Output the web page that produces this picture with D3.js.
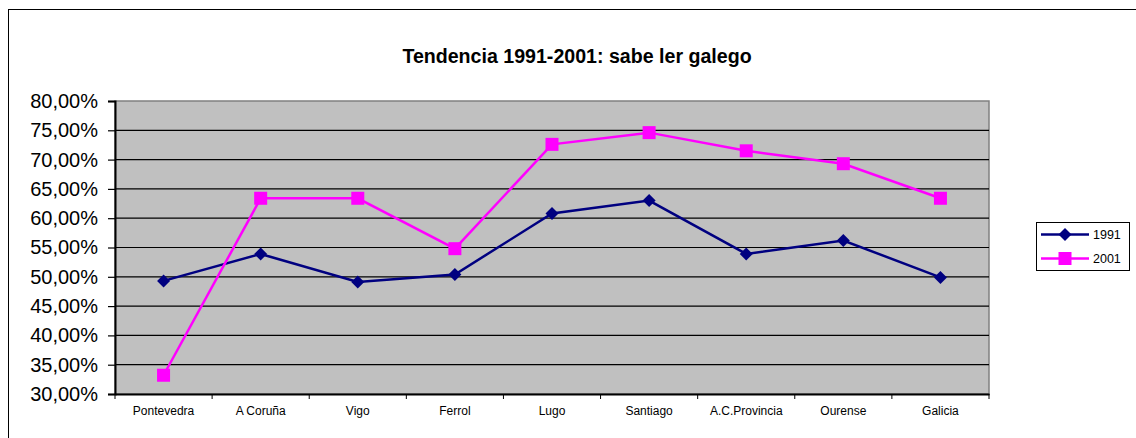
<!DOCTYPE html>
<html>
<head>
<meta charset="utf-8">
<script src="https://cdn.jsdelivr.net/npm/d3@7"></script>
<style>
  body { margin: 0; background: #fff; }
  svg { display: block; font-family: "Liberation Sans", Arial, sans-serif; }
</style>
</head>
<body>
<svg id="chart" width="1136" height="438"></svg>
<script>
const categories = ["Pontevedra", "A Coruña", "Vigo", "Ferrol", "Lugo", "Santiago", "A.C.Provincia", "Ourense", "Galicia"];
const values1991 = [0.493, 0.539, 0.491, 0.504, 0.608, 0.630, 0.539, 0.562, 0.499];
const values2001 = [0.332, 0.634, 0.634, 0.548, 0.726, 0.746, 0.715, 0.693, 0.634];
const yTicks = [0.30, 0.35, 0.40, 0.45, 0.50, 0.55, 0.60, 0.65, 0.70, 0.75, 0.80];

const series = [
  { name: "1991", values: values1991, color: "#000080", marker: "diamond" },
  { name: "2001", values: values2001, color: "#ff00ff", marker: "square" }
];

const svg = d3.select("#chart");
const plot = { left: 115, right: 989, top: 101, bottom: 394 };

// chart frame
svg.append("rect")
  .attr("x", 8.5).attr("y", 9.5)
  .attr("width", 1140).attr("height", 440)
  .attr("fill", "none").attr("stroke", "#000").attr("stroke-width", 1);

svg.append("text")
  .attr("x", 577).attr("y", 63)
  .attr("text-anchor", "middle")
  .attr("font-size", "19.6px").attr("font-weight", "bold")
  .text("Tendencia 1991-2001: sabe ler galego");

const x = d3.scaleBand().domain(categories).range([plot.left, plot.right]);
const y = d3.scaleLinear().domain([0.30, 0.80]).range([plot.bottom, plot.top]);

svg.append("rect")
  .attr("x", plot.left).attr("y", plot.top)
  .attr("width", plot.right - plot.left).attr("height", plot.bottom - plot.top)
  .attr("fill", "#c0c0c0").attr("stroke", "#808080").attr("stroke-width", 1.5);

// gridlines
svg.append("g").selectAll("line")
  .data(yTicks.slice(1, -1))
  .enter().append("line")
  .attr("x1", plot.left).attr("x2", plot.right)
  .attr("y1", d => y(d)).attr("y2", d => y(d))
  .attr("stroke", "#000").attr("stroke-width", 1.2);

const fmt = d => d3.format(".2f")(d * 100).replace(".", ",") + "%";

const yAxis = svg.append("g")
  .attr("transform", `translate(${plot.left},0)`)
  .call(d3.axisLeft(y).tickValues(yTicks).tickFormat(fmt).tickSize(7).tickPadding(10));
yAxis.select(".domain").attr("stroke", "#000").attr("stroke-width", 2);
yAxis.selectAll(".tick line").attr("stroke", "#000").attr("stroke-width", 1.2);
yAxis.selectAll("text")
  .attr("font-size", "20px").attr("fill", "#000")
  .attr("font-family", "Liberation Sans, Arial, sans-serif");

const xAxis = svg.append("g")
  .attr("transform", `translate(0,${plot.bottom})`)
  .call(d3.axisBottom(x).tickSize(0).tickPadding(12));
xAxis.select(".domain").attr("stroke", "#000").attr("stroke-width", 2);
xAxis.selectAll("text")
  .attr("font-size", "12px").attr("fill", "#000")
  .attr("font-family", "Liberation Sans, Arial, sans-serif");
// category separator ticks
svg.append("g").selectAll("line")
  .data(categories.concat(["__end"]))
  .enter().append("line")
  .attr("x1", (d, i) => plot.left + i * x.step())
  .attr("x2", (d, i) => plot.left + i * x.step())
  .attr("y1", plot.bottom).attr("y2", plot.bottom + 5)
  .attr("stroke", "#000").attr("stroke-width", 1);

const line = d3.line()
  .x((d, i) => x(categories[i]) + x.bandwidth() / 2)
  .y(d => y(d));

function drawMarker(g, type, color) {
  if (type === "diamond") {
    g.append("path").attr("d", "M0,-6.5L6.5,0L0,6.5L-6.5,0Z").attr("fill", color);
  } else {
    g.append("rect").attr("x", -6.5).attr("y", -6.5).attr("width", 13).attr("height", 13).attr("fill", color);
  }
}

series.forEach(s => {
  svg.append("path")
    .datum(s.values)
    .attr("d", line)
    .attr("fill", "none")
    .attr("stroke", s.color)
    .attr("stroke-width", 2.5);
  s.values.forEach((v, i) => {
    const g = svg.append("g")
      .attr("transform", `translate(${x(categories[i]) + x.bandwidth() / 2},${y(v)})`);
    drawMarker(g, s.marker, s.color);
  });
});

// legend
const legend = svg.append("g");
legend.append("rect")
  .attr("x", 1036.5).attr("y", 222.5).attr("width", 93).attr("height", 48)
  .attr("fill", "#fff").attr("stroke", "#000").attr("stroke-width", 1);
series.forEach((s, i) => {
  const ly = 234.5 + i * 24;
  legend.append("line")
    .attr("x1", 1041).attr("x2", 1089).attr("y1", ly).attr("y2", ly)
    .attr("stroke", s.color).attr("stroke-width", 2.5);
  const g = legend.append("g").attr("transform", `translate(1065,${ly})`);
  drawMarker(g, s.marker, s.color);
  legend.append("text")
    .attr("x", 1093).attr("y", ly + 4.5)
    .attr("font-size", "12.5px")
    .text(s.name);
});
</script>
</body>
</html>
